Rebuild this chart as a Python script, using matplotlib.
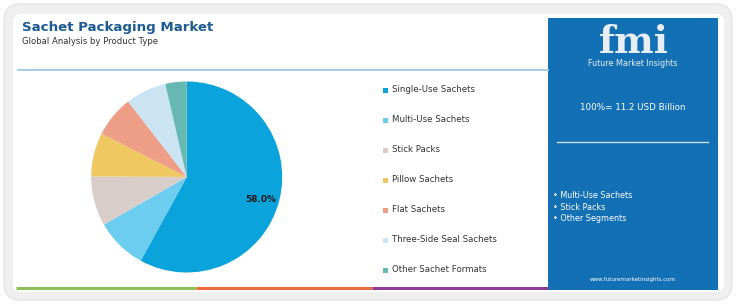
import matplotlib.pyplot as plt
from matplotlib.patches import FancyBboxPatch, Rectangle

# data
segments = ['Single-Use Sachets', 'Multi-Use Sachets', 'Stick Packs', 'Pillow Sachets',
            'Flat Sachets', 'Three-Side Seal Sachets', 'Other Sachet Formats']
shares = [58.0, 8.7, 8.4, 7.4, 7.0, 6.9, 3.6]
colors = ['#0aa3dc', '#6dcdf0', '#d9cdc9', '#f0c862', '#ee9d86', '#cbe4f3', '#66b9b2']
panel_bullets = ['Multi-Use Sachets', 'Stick Packs', 'Other Segments']
total_text = '100%= 11.2 USD Billion'

W, H = 736, 307
fig = plt.figure(figsize=(W / 100, H / 100), dpi=100)
bg = fig.add_axes([0, 0, 1, 1])
bg.set_xlim(0, W)
bg.set_ylim(H, 0)
bg.axis('off')

# card frame
bg.add_patch(FancyBboxPatch((4, 4), 728, 296, boxstyle='round,pad=0,rounding_size=16',
                            fc='#efefef', ec='#e2e2e2', lw=0.8))
bg.add_patch(FancyBboxPatch((13, 14), 711, 278, boxstyle='round,pad=0,rounding_size=8',
                            fc='white', ec='none'))

# title
bg.text(22, 28, 'Sachet Packaging Market', fontsize=9.6, fontweight='bold',
        color='#1b5a92', va='center')
bg.text(22, 42, 'Global Analysis by Product Type', fontsize=6.1, color='#333333', va='center')
bg.plot([18, 548], [70, 70], color='#a9cde6', lw=1.5)

# bottom coloured strip
bg.plot([16, 196], [288, 288], color='#8dc05a', lw=2.2, solid_capstyle='butt')
bg.plot([196, 372], [288, 288], color='#ee6a3e', lw=2.2, solid_capstyle='butt')
bg.plot([372, 548], [288, 288], color='#8e3c97', lw=2.2, solid_capstyle='butt')

# right panel
bg.add_patch(Rectangle((548, 18), 170, 272, fc='#1470b4', ec='none'))
bg.text(634, 53, 'fmi', fontsize=27, fontweight='bold', color='#e8eef5',
        ha='center', va='baseline', family='DejaVu Serif')
bg.text(633, 64, 'Future Market Insights', fontsize=5.8, color='#e8eef5', ha='center', va='center')
bg.text(633, 107, total_text, fontsize=6.3, color='white', ha='center', va='center')
bg.plot([557, 708], [142, 142], color='#c8dcee', lw=1)
for i, b in enumerate(panel_bullets):
    bg.text(553, 196 + i * 11.3, '• ' + b, fontsize=5.8, color='white', va='center')
bg.text(633, 279, 'www.futuremarketinsights.com', fontsize=4, color='white', ha='center', va='center')

# legend
for i, (s, c) in enumerate(zip(segments, colors)):
    y = 90 + i * 30
    bg.add_patch(Rectangle((383, y - 2.5), 5, 5, fc=c, ec='none'))
    bg.text(392, y, s, fontsize=6.2, color='#333333', va='center')

# pie
cx, cy, r = 186.7, 177, 95.5
pax = fig.add_axes([(cx - r) / W, (H - cy - r) / H, 2 * r / W, 2 * r / H])
pax.pie(shares, colors=colors, startangle=90, counterclock=False, radius=1,
        wedgeprops=dict(linewidth=0))
pax.set_xlim(-1, 1)
pax.set_ylim(-1, 1)
pax.axis('off')
pax.text(0.78, -0.24, f'{shares[0]:.1f}%', fontsize=6.5, fontweight='bold', color='#1a1a1a',
         ha='center', va='center')

fig.savefig('out.png', dpi=100)
